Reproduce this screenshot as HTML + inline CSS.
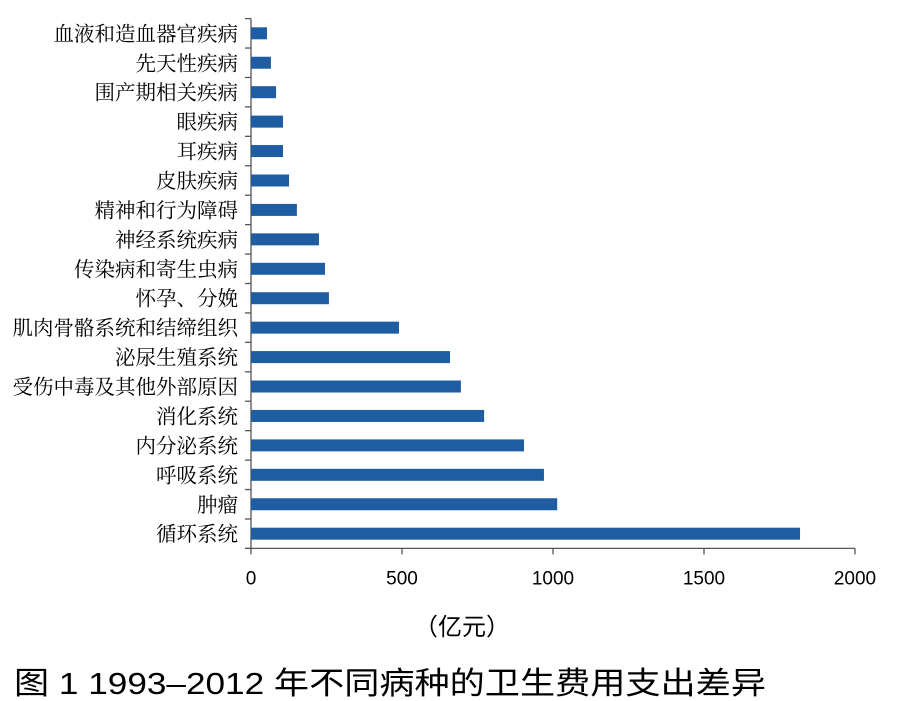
<!DOCTYPE html>
<html><head><meta charset="utf-8"><style>
body{margin:0;background:#fff;width:904px;height:701px;overflow:hidden}
svg{display:block}
text{font-family:"Liberation Serif","Noto Serif CJK SC","Noto Sans CJK SC",serif;fill:#000}
.tick{font-family:"Liberation Sans","Noto Sans CJK SC",sans-serif}
</style></head><body>
<svg id="chart" width="904" height="701">
<g id="plot"></g>
<text x="462" y="635" text-anchor="middle" font-size="24" class="tick">（亿元）</text>
<text x="14" y="694" font-size="31" textLength="752" lengthAdjust="spacingAndGlyphs" class="tick">图 1  1993–2012 年不同病种的卫生费用支出差异</text>
</svg>
<script>
const categories=["血液和造血器官疾病","先天性疾病","围产期相关疾病","眼疾病","耳疾病","皮肤疾病","精神和行为障碍","神经系统疾病","传染病和寄生虫病","怀孕、分娩","肌肉骨骼系统和结缔组织","泌尿生殖系统","受伤中毒及其他外部原因","消化系统","内分泌系统","呼吸系统","肿瘤","循环系统"];
const values=[53,66,83,106,106,126,152,225,245,258,490,659,695,772,904,970,1014,1818];
const ticks=[0,500,1000,1500,2000];
const NS="http://www.w3.org/2000/svg";
const g=document.getElementById('plot');
const x0=251,x1=855,plotTop=18.6,plotBottom=548.4;
const band=(plotBottom-plotTop)/categories.length;
const xs=v=>x0+(v/2000)*(x1-x0);
const yc=i=>plotTop+band*(i+0.5);
function el(t,a){const e=document.createElementNS(NS,t);for(const k in a)e.setAttribute(k,a[k]);g.appendChild(e);return e;}
let ax=el('line',{x1:x0,y1:plotTop,x2:x0,y2:plotBottom,stroke:'#555','stroke-width':1.3});


let bx=el('line',{x1:x0-6,y1:plotBottom,x2:x1,y2:plotBottom,stroke:'#555','stroke-width':1.3});


for(let i=0;i<=categories.length;i++){
  let t=el('line',{x1:x0-6,y1:plotTop+band*i,x2:x0,y2:plotTop+band*i,stroke:'#555','stroke-width':1.3});
  
  
}
ticks.forEach(v=>{
  let t=el('line',{x1:xs(v),y1:plotBottom,x2:xs(v),y2:plotBottom+6,stroke:'#555','stroke-width':1.3});
  
  
  let l=el('text',{x:xs(v),y:plotBottom+36,'text-anchor':'middle','font-size':19,class:'tick'});
  l.textContent=v;
  
  
});
categories.forEach((c,i)=>{
  let b=el('rect',{x:x0,y:yc(i)-6,width:xs(values[i])-x0,height:12,fill:'#1f5da3'});
  
  
  let l=el('text',{x:238,y:yc(i)+7.5,'text-anchor':'end','font-size':20.5});
  l.textContent=c;
  
  
});
</script>
</body></html>
